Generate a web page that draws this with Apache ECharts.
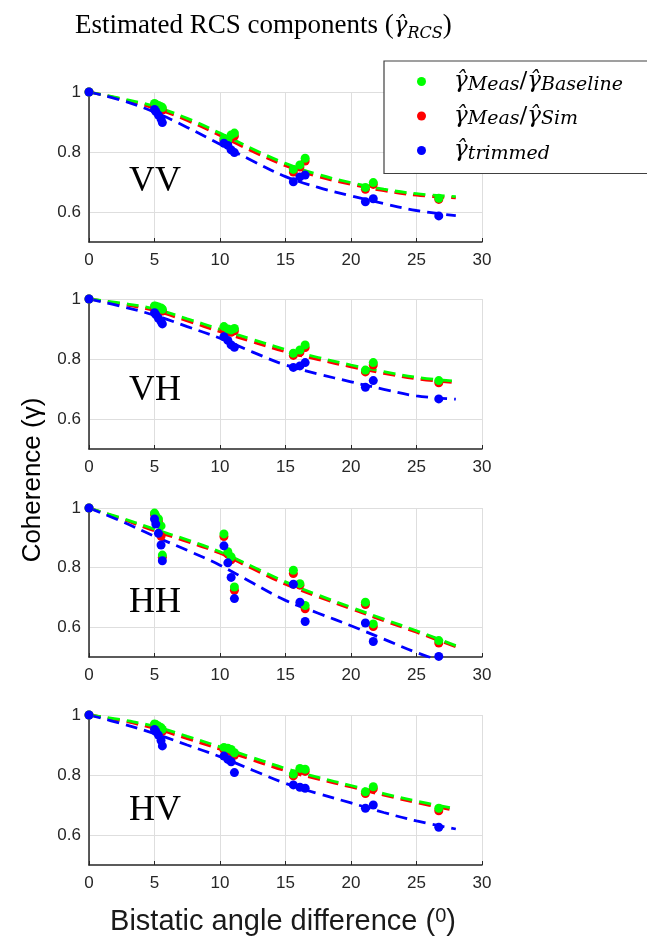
<!DOCTYPE html>
<html><head><meta charset="utf-8">
<script src="https://cdn.jsdelivr.net/npm/echarts@6/dist/echarts.min.js"></script>
<style>html,body{margin:0;padding:0;background:#fff}#c{width:647px;height:941px}</style>
</head><body><div id="c"></div>
<script>
// ---------------- data ----------------
const panelNames = ['VV', 'VH', 'HH', 'HV'];
const seriesNames = ['Baseline', 'Sim', 'trimmed'];
const yTickLabels = ['0.6', '0.8', '1'];
const angles = [0, 5.0, 5.1, 5.3, 5.5, 5.6, 10.3, 10.6, 10.85, 11.1, 15.6, 16.1, 16.5, 21.1, 21.7, 26.7];

const vvBaseline = [1, 0.962, 0.958, 0.955, 0.951, 0.948, 0.845, 0.840, 0.857, 0.863, 0.742, 0.757, 0.779, 0.682, 0.698, 0.646];
const vvSim      = [1, 0.955, 0.950, 0.947, 0.944, 0.940, 0.838, 0.833, 0.848, 0.853, 0.733, 0.750, 0.770, 0.676, 0.692, 0.642];
const vvTrimmed  = [1, 0.942, 0.935, 0.923, 0.910, 0.898, 0.829, 0.822, 0.807, 0.798, 0.701, 0.717, 0.723, 0.634, 0.644, 0.587];

const vhBaseline = [1, 0.977, 0.976, 0.973, 0.970, 0.966, 0.908, 0.900, 0.897, 0.902, 0.819, 0.830, 0.847, 0.763, 0.788, 0.728];
const vhSim      = [1, 0.972, 0.970, 0.967, 0.964, 0.960, 0.900, 0.892, 0.889, 0.894, 0.812, 0.822, 0.838, 0.757, 0.780, 0.721];
const vhTrimmed  = [1, 0.954, 0.948, 0.936, 0.925, 0.917, 0.874, 0.862, 0.847, 0.839, 0.772, 0.777, 0.788, 0.706, 0.728, 0.667];

const hhBaseline = [1, 0.983, 0.974, 0.963, 0.940, 0.842, 0.913, 0.853, 0.836, 0.735, 0.791, 0.746, 0.673, 0.684, 0.611, 0.555];
const hhSim      = [1, 0.978, 0.968, 0.955, 0.905, 0.835, 0.904, 0.845, 0.826, 0.724, 0.780, 0.741, 0.662, 0.676, 0.602, 0.547];
const hhTrimmed  = [1, 0.963, 0.946, 0.915, 0.876, 0.823, 0.873, 0.816, 0.767, 0.696, 0.744, 0.684, 0.619, 0.614, 0.552, 0.502];

const hvBaseline = [1, 0.970, 0.968, 0.963, 0.958, 0.952, 0.892, 0.889, 0.885, 0.874, 0.803, 0.822, 0.819, 0.744, 0.761, 0.689];
const hvSim      = [1, 0.965, 0.962, 0.957, 0.952, 0.946, 0.885, 0.882, 0.878, 0.866, 0.797, 0.815, 0.812, 0.738, 0.754, 0.681];
const hvTrimmed  = [1, 0.952, 0.945, 0.933, 0.915, 0.897, 0.863, 0.852, 0.844, 0.808, 0.767, 0.759, 0.756, 0.689, 0.700, 0.626];

const fitX = [0, 2.5, 5, 7.5, 10, 12.5, 15, 17.5, 20, 22.5, 25, 28];
const vvFitBaseline = [1, 0.978, 0.952, 0.912, 0.863, 0.810, 0.762, 0.725, 0.698, 0.676, 0.661, 0.651];
const vvFitSim      = [1, 0.976, 0.946, 0.905, 0.855, 0.802, 0.754, 0.718, 0.692, 0.671, 0.656, 0.647];
const vvFitTrimmed  = [1, 0.972, 0.933, 0.882, 0.826, 0.770, 0.718, 0.682, 0.654, 0.628, 0.605, 0.588];

const vhFitBaseline = [1, 0.986, 0.967, 0.934, 0.899, 0.865, 0.832, 0.805, 0.780, 0.758, 0.739, 0.726];
const vhFitSim      = [1, 0.983, 0.961, 0.927, 0.891, 0.857, 0.824, 0.798, 0.774, 0.752, 0.734, 0.721];
const vhFitTrimmed  = [1, 0.975, 0.946, 0.908, 0.869, 0.823, 0.780, 0.750, 0.724, 0.699, 0.677, 0.666];

const hhFitBaseline = [1, 0.966, 0.929, 0.893, 0.853, 0.803, 0.752, 0.708, 0.667, 0.627, 0.588, 0.538];
const hhFitSim      = [1, 0.963, 0.923, 0.887, 0.848, 0.796, 0.744, 0.702, 0.662, 0.622, 0.583, 0.534];
const hhFitTrimmed  = [1, 0.955, 0.905, 0.858, 0.808, 0.748, 0.690, 0.647, 0.605, 0.560, 0.515, 0.470];

const hvFitBaseline = [1, 0.984, 0.962, 0.929, 0.894, 0.858, 0.822, 0.792, 0.765, 0.738, 0.713, 0.688];
const hvFitSim      = [1, 0.981, 0.955, 0.921, 0.886, 0.850, 0.814, 0.786, 0.760, 0.733, 0.708, 0.681];
const hvFitTrimmed  = [1, 0.971, 0.938, 0.900, 0.861, 0.816, 0.772, 0.738, 0.707, 0.675, 0.647, 0.620];

// ---------------- build ----------------
const scatterSets = [
  [vvBaseline, vvSim, vvTrimmed],
  [vhBaseline, vhSim, vhTrimmed],
  [hhBaseline, hhSim, hhTrimmed],
  [hvBaseline, hvSim, hvTrimmed]
];
const fitSets = [
  [vvFitBaseline, vvFitSim, vvFitTrimmed],
  [vhFitBaseline, vhFitSim, vhFitTrimmed],
  [hhFitBaseline, hhFitSim, hhFitTrimmed],
  [hvFitBaseline, hvFitSim, hvFitTrimmed]
];
const colors = ['#00ff00', '#ff0000', '#0000ff'];
const gridTops = [92, 299, 508, 715];
const gridHeights = [150, 150, 149, 150];
const tickColor = '#262626';

const grids = [], xAxes = [], yAxes = [], series = [], graphics = [];
for (let p = 0; p < 4; p++) {
  grids.push({ left: 89, top: gridTops[p], width: 393, height: gridHeights[p] });
  xAxes.push({
    type: 'value', gridIndex: p, min: 0, max: 30, interval: 5,
    axisLine: { show: true, onZero: false, lineStyle: { color: tickColor, width: 1.5 } },
    axisTick: { show: true, inside: true, length: 4, lineStyle: { color: tickColor } },
    axisLabel: { color: tickColor, fontSize: 17, fontFamily: 'Liberation Sans', margin: 10 },
    splitLine: { show: true, lineStyle: { color: '#dedede', width: 1 } }
  });
  yAxes.push({
    type: 'value', gridIndex: p, min: 0.5, max: 1, interval: 0.1,
    axisLine: { show: true, onZero: false, lineStyle: { color: tickColor, width: 1.5 } },
    axisTick: { show: false },
    axisLabel: {
      color: tickColor, fontSize: 17, fontFamily: 'Liberation Sans', margin: 8,
      formatter: v => { const r = Math.round(v * 10); return r === 6 ? yTickLabels[0] : r === 8 ? yTickLabels[1] : r === 10 ? yTickLabels[2] : ''; }
    },
    splitLine: { show: true, lineStyle: { color: ['rgba(0,0,0,0)', '#dedede'], width: 1 } }
  });
  [1, 0, 2].forEach((k, j) => {
    series.push({
      type: 'line', name: 'fit ' + seriesNames[k], xAxisIndex: p, yAxisIndex: p,
      data: fitX.map((x, i) => [x, fitSets[p][k][i]]),
      smooth: 0.4, symbol: 'none', showSymbol: false, silent: true, clip: true,
      lineStyle: { color: colors[k], width: 2.8, type: [12, 7], opacity: 1 }, z: 2 + j * 0.1
    });
  });
  [1, 0, 2].forEach((k, j) => {
    series.push({
      type: 'scatter', name: seriesNames[k], xAxisIndex: p, yAxisIndex: p,
      data: angles.map((x, i) => [x, scatterSets[p][k][i]]),
      symbol: 'circle', symbolSize: 9, itemStyle: { color: colors[k], opacity: 1 }, z: 3 + j * 0.1
    });
  });
  graphics.push({
    type: 'text', left: 129, top: gridTops[p] + [72, 74, 77, 78][p],
    style: { text: panelNames[p], font: '36px "Liberation Serif"', fill: '#000' }
  });
}

graphics.push({
  type: 'text', x: 33, y: 480, rotation: Math.PI / 2,
  style: { text: 'Coherence (γ)', font: '26px "Liberation Sans"', fill: '#000', align: 'center', verticalAlign: 'middle' }
});
graphics.push({
  type: 'text', x: 283, y: 922,
  style: {
    text: '{t|Bistatic angle difference (}{u|0}{t|)}', align: 'center', verticalAlign: 'middle',
    rich: {
      t: { fontFamily: 'Liberation Sans', fontSize: 29, fill: '#1a1a1a', lineHeight: 32 },
      u: { fontFamily: 'Liberation Sans', fontSize: 20, fill: '#1a1a1a', lineHeight: 20, verticalAlign: 'top' }
    }
  }
});

const legendText = {
  Baseline: '{sp| }{g|γ̂}{s|Meas}{d|/}{g|γ̂}{s|Baseline}',
  Sim: '{sp| }{g|γ̂}{s|Meas}{d|/}{g|γ̂}{s|Sim}',
  trimmed: '{sp| }{g|γ̂}{s|trimmed}'
};

const option = {
  backgroundColor: '#fff',
  animation: false,
  title: {
    text: '{t|Estimated RCS components (}{g|γ̂}{s|RCS}{t|)}',
    left: 75, top: 10, padding: 0,
    textStyle: {
      fontWeight: 'normal',
      rich: {
        t: { fontFamily: 'Liberation Serif', fontWeight: 'normal', fontSize: 27, color: '#000', lineHeight: 32 },
        g: { fontFamily: 'DejaVu Serif', fontWeight: 'normal', fontStyle: 'italic', fontSize: 23, color: '#000', lineHeight: 32 },
        s: { fontFamily: 'DejaVu Serif', fontWeight: 'normal', fontStyle: 'italic', fontSize: 16, color: '#000', lineHeight: 24, verticalAlign: 'bottom' }
      }
    }
  },
  legend: {
    data: seriesNames.slice(),
    orient: 'vertical', left: 384, top: 61,
    padding: [9, 300, 10, 33], itemGap: 10, itemWidth: 9, itemHeight: 9,
    icon: 'circle',
    backgroundColor: '#fff', borderColor: '#404040', borderWidth: 1.2,
    formatter: n => legendText[n],
    textStyle: {
      rich: {
        sp: { width: 23 },
        g: { fontFamily: 'DejaVu Serif', fontStyle: 'italic', fontSize: 23, color: '#000', lineHeight: 26 },
        d: { fontFamily: 'DejaVu Serif', fontSize: 23, color: '#000', lineHeight: 26 },
        s: { fontFamily: 'DejaVu Serif', fontStyle: 'italic', fontSize: 19, color: '#000', lineHeight: 21, verticalAlign: 'bottom' }
      }
    },
    z: 10
  },
  grid: grids, xAxis: xAxes, yAxis: yAxes, series: series,
  graphic: graphics
};
const chart = echarts.init(document.getElementById('c'), null, { renderer: 'canvas' });
chart.setOption(option);
</script></body></html>
